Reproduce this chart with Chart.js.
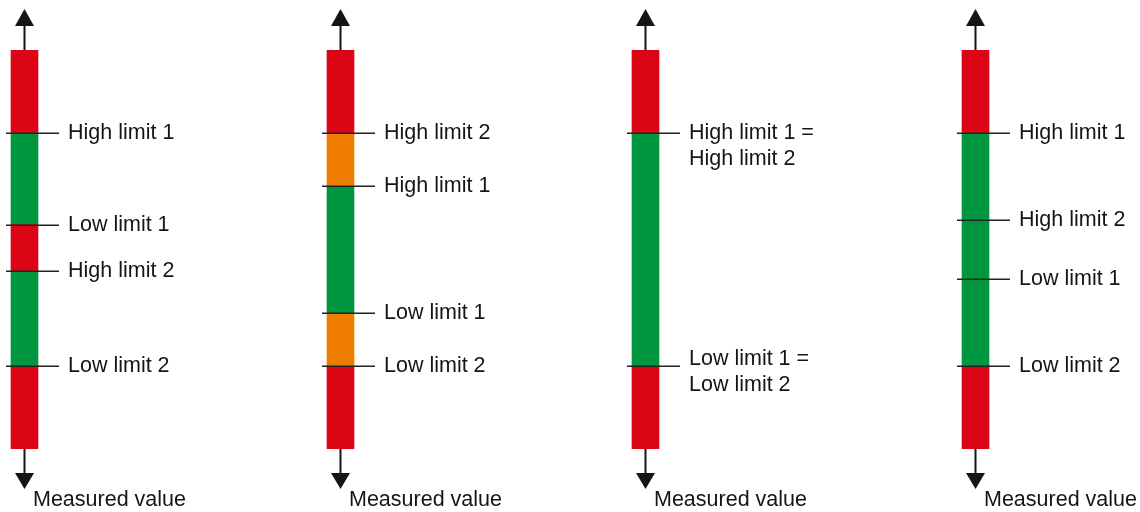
<!DOCTYPE html>
<html>
<head>
<meta charset="utf-8">
<script src="https://cdn.jsdelivr.net/npm/chart.js@4.4.1/dist/chart.umd.min.js"></script>
<style>
  html, body { margin: 0; padding: 0; background: #ffffff; }
  #wrap { width: 1140px; height: 512px; }
</style>
</head>
<body>
<div id="wrap"><canvas id="c" width="1140" height="512"></canvas></div>
<script>
// ---------- data ----------
const scaleMin = 0;
const scaleMax = 100;
// band boundaries of each gauge, bottom to top (measured-value units)
const gauge1Bounds = [0, 20.9, 44.5, 56.4, 79.2, 100];
const gauge2Bounds = [0, 20.9, 34.0, 65.9, 79.2, 100];
const gauge3Bounds = [0, 20.9, 79.2, 100];
const gauge4Bounds = [0, 20.9, 79.2, 100];
// zone of each band
const gauge1Zones = ['alarm', 'ok', 'alarm', 'ok', 'alarm'];
const gauge2Zones = ['alarm', 'warn', 'ok', 'warn', 'alarm'];
const gauge3Zones = ['alarm', 'ok', 'alarm'];
const gauge4Zones = ['alarm', 'ok', 'alarm'];
// limit markers
const gauge1Limits = [79.2, 56.2, 44.5, 20.9];
const gauge2Limits = [79.2, 65.9, 34.0, 20.9];
const gauge3Limits = [79.2, 20.9];
const gauge4Limits = [79.2, 57.4, 42.6, 20.9];
// limit labels
const gauge1Labels = ['High limit 1', 'Low limit 1', 'High limit 2', 'Low limit 2'];
const gauge2Labels = ['High limit 2', 'High limit 1', 'Low limit 1', 'Low limit 2'];
const gauge3Labels = [['High limit 1 =', 'High limit 2'], ['Low limit 1 =', 'Low limit 2']];
const gauge4Labels = ['High limit 1', 'High limit 2', 'Low limit 1', 'Low limit 2'];
const axisTitle = 'Measured value';

// ---------- layout / style (not data) ----------
const gaugeX = [24.5, 340.5, 645.5, 975.5];
const labelShift = [[0,0,0,0],[0,0,0,0],[0,7],[0,0,0,0]];
const zoneColors = { alarm: '#DC0515', warn: '#EF7D00', ok: '#009640' };
const BAR_W = 27;
const FONT = '21.5px "Liberation Sans", Arial, Helvetica, sans-serif';
const INK = '#151515';

const gauges = [
  { bounds: gauge1Bounds, zones: gauge1Zones, limits: gauge1Limits, labels: gauge1Labels },
  { bounds: gauge2Bounds, zones: gauge2Zones, limits: gauge2Limits, labels: gauge2Labels },
  { bounds: gauge3Bounds, zones: gauge3Zones, limits: gauge3Limits, labels: gauge3Labels },
  { bounds: gauge4Bounds, zones: gauge4Zones, limits: gauge4Limits, labels: gauge4Labels }
];

const segData = [];
const segColors = [];
gauges.forEach((g, gi) => {
  for (let i = 0; i < g.zones.length; i++) {
    segData.push({ x: gaugeX[gi], y: [g.bounds[i], g.bounds[i + 1]] });
    segColors.push(zoneColors[g.zones[i]]);
  }
});

const decorPlugin = {
  id: 'decor',
  afterDatasetsDraw(chart) {
    const ctx = chart.ctx;
    const xs = chart.scales.x, ys = chart.scales.y;
    const yTop = ys.getPixelForValue(scaleMax);
    const yBot = ys.getPixelForValue(scaleMin);
    ctx.save();
    gauges.forEach((g, gi) => {
      const cx = xs.getPixelForValue(gaugeX[gi]);
      const left = cx - BAR_W / 2, right = cx + BAR_W / 2;
      // arrows
      ctx.strokeStyle = INK; ctx.fillStyle = INK; ctx.lineWidth = 2;
      ctx.beginPath();
      ctx.moveTo(cx, yTop); ctx.lineTo(cx, yTop - 25);
      ctx.moveTo(cx, yBot); ctx.lineTo(cx, yBot + 25);
      ctx.stroke();
      ctx.beginPath();
      ctx.moveTo(cx, yTop - 41); ctx.lineTo(cx - 9.5, yTop - 24); ctx.lineTo(cx + 9.5, yTop - 24); ctx.closePath();
      ctx.fill();
      ctx.beginPath();
      ctx.moveTo(cx, yBot + 40); ctx.lineTo(cx - 9.5, yBot + 24); ctx.lineTo(cx + 9.5, yBot + 24); ctx.closePath();
      ctx.fill();
      // limit lines + labels
      ctx.font = FONT;
      ctx.textAlign = 'left';
      ctx.textBaseline = 'alphabetic';
      g.limits.forEach((v, li) => {
        const y = Math.round(ys.getPixelForValue(v)) + 0.25;
        ctx.strokeStyle = '#222222'; ctx.lineWidth = 1.6;
        ctx.beginPath(); ctx.moveTo(left - 5, y); ctx.lineTo(right + 21, y); ctx.stroke();
        const lab = g.labels[li];
        const lines = Array.isArray(lab) ? lab : [lab];
        ctx.fillStyle = INK;
        lines.forEach((t, k) => {
          ctx.fillText(t, right + 30, y + 5.5 - labelShift[gi][li] + k * 26);
        });
      });
      // axis title
      ctx.fillStyle = INK;
      ctx.fillText(axisTitle, left + 22, 506);
    });
    ctx.restore();
  }
};

new Chart(document.getElementById('c'), {
  type: 'bar',
  data: {
    datasets: [{
      data: segData,
      backgroundColor: segColors,
      borderWidth: 0,
      barThickness: BAR_W,
      grouped: false
    }]
  },
  options: {
    responsive: false,
    animation: false,
    events: [],
    layout: { padding: { left: 0, right: 0, top: 50, bottom: 63 } },
    plugins: { legend: { display: false }, tooltip: { enabled: false }, title: { display: false } },
    scales: {
      x: { type: 'linear', min: 0, max: 1140, offset: false, display: false },
      y: { type: 'linear', min: scaleMin, max: scaleMax, display: false }
    }
  },
  plugins: [decorPlugin]
});
</script>
</body>
</html>
